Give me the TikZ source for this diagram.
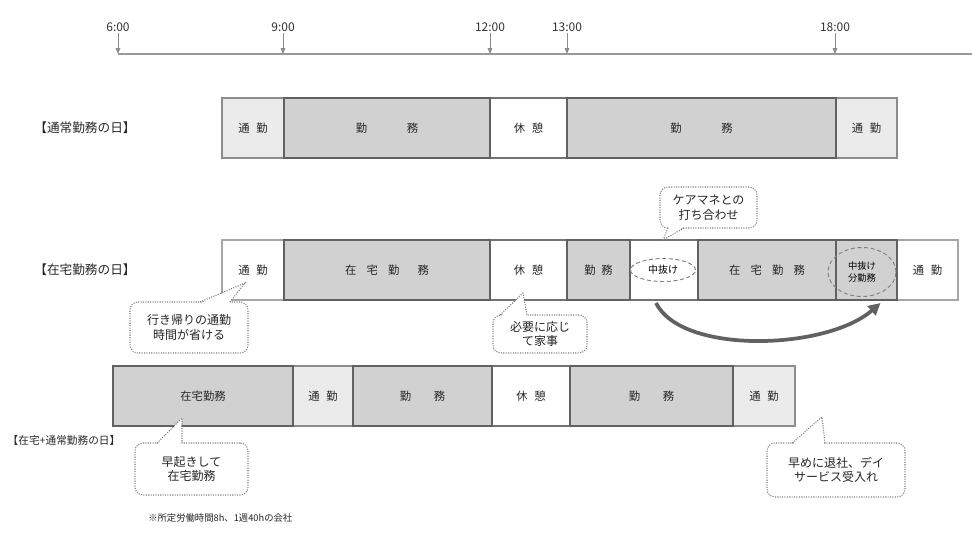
\documentclass[tikz,border=0pt]{standalone}
\usepackage{fontspec}
\setmainfont{Noto Sans CJK JP}
\usetikzlibrary{arrows.meta,shapes.geometric,calc}
\newcommand{\seg}[7]{\node[#6, minimum width={(#3-#2)*0.75pt}, minimum height={(#5-#4)*0.75pt}] (#1) at (#2,#4) {#7};}
\begin{document}
\begin{tikzpicture}[x=0.75pt,y=-0.75pt,
  segbase/.style={anchor=north west, inner sep=0pt, outer sep=0pt, font=\fontsize{8.5}{9.5}\selectfont, text=black!85, align=center},
  work/.style={segbase, fill=black!18, draw=black!62, line width=1.4pt},
  comm/.style={segbase, fill=black!8, draw=black!45, line width=0.9pt},
  rest/.style={segbase, fill=white, draw=black!55, line width=1pt},
  wcomm/.style={segbase, fill=white, draw=black!35, line width=0.8pt},
  rowlabel/.style={font=\fontsize{9.5}{11}\selectfont, text=black!85, inner sep=0pt},
  tlabel/.style={font=\fontsize{9}{10}\selectfont, text=black!80, inner sep=1pt},
  tarrow/.style={draw=black!45, line width=0.7pt, -{Triangle[length=4.5pt,width=3.5pt]}},
  callout/.style={draw=black!50, densely dotted, line width=0.8pt, rounded corners=6pt, fill=white, align=center, inner sep=1pt, font=\fontsize{9}{11}\selectfont, text=black!85},
  cline/.style={draw=black!50, densely dotted, line width=0.8pt},
  oval/.style={ellipse, draw=black!50, densely dashed, line width=0.7pt, inner sep=0pt, align=center}
]
\useasboundingbox (0,0) rectangle (972,553);

% timeline
\coordinate (tl0) at (118,54);
\coordinate (tlE) at (972,54);
\draw[draw=black!40, line width=1.3pt] (tl0) -- (tlE);
\node[tlabel] (h6) at (118,27) {6:00};
\node[tlabel] (h9) at (283,27) {9:00};
\node[tlabel] (h12) at (490,27) {12:00};
\node[tlabel] (h13) at (567,27) {13:00};
\node[tlabel] (h18) at (835,27) {18:00};
\foreach \h in {h6,h9,h12,h13,h18} {\draw[tarrow] (\h.south) -- (\h |- tl0);}

% row labels
\node[rowlabel] (r1) at (85,128) {【通常勤務の日】};
\node[rowlabel] (r2) at (85,270) {【在宅勤務の日】};
\node[rowlabel, font=\fontsize{8}{9}\selectfont] (r3) at (64,440) {【在宅+通常勤務の日】};

% row 1
\seg{a1}{222}{284}{98}{158}{comm}{通\hspace{0.6em}勤}
\seg{a3}{490}{567}{98}{158}{rest}{休\hspace{0.6em}憩}
\seg{a5}{836}{897}{98}{158}{comm}{通\hspace{0.6em}勤}
\seg{a2}{284}{490}{98}{158}{work}{勤\hspace{3.5em}務}
\seg{a4}{567}{836}{98}{158}{work}{勤\hspace{3.5em}務}

% row 2
\seg{b1}{222}{284}{240}{300}{wcomm}{通\hspace{0.6em}勤}
\seg{b8}{897}{958}{240}{300}{wcomm}{通\hspace{0.6em}勤}
\seg{b3}{490}{567}{240}{300}{rest}{休\hspace{0.6em}憩}
\seg{b5}{630}{698}{240}{300}{rest}{}
\seg{b2}{284}{490}{240}{300}{work}{在\hspace{0.9em}宅\hspace{0.9em}勤\hspace{1.6em}務}
\seg{b4}{567}{630}{240}{300}{work}{勤\hspace{0.5em}務}
\seg{b6}{698}{836}{240}{300}{work}{在\hspace{0.9em}宅\hspace{0.9em}勤\hspace{0.9em}務}
\seg{b7}{836}{897}{240}{300}{work}{}
\node[oval, fill=white, minimum width=65*0.75pt, minimum height=23*0.75pt, font=\fontsize{7.5}{8}\selectfont] (e1) at (663,270) {中抜け};
\node[oval, minimum width=68*0.75pt, minimum height=49*0.75pt, font=\fontsize{7}{8.5}\selectfont] (e2) at (862,272) {中抜け\\分勤務};
\draw[draw=black!62, line width=2.8pt, -{Triangle[length=9pt,width=9pt]}]
  ($(b5.south)+(-8,3)$) .. controls ($(b5.south)+(18,55)$) and ($(b7.south)+(-40,50)$) .. ($(b7.south)+(14,3)$);

% row 3
\seg{c2}{293}{353}{366}{426}{comm}{通\hspace{0.6em}勤}
\seg{c4}{492}{570}{366}{426}{rest}{休\hspace{0.6em}憩}
\seg{c6}{733}{795}{366}{426}{comm}{通\hspace{0.6em}勤}
\seg{c1}{113}{293}{366}{426}{work}{在宅勤務}
\seg{c3}{353}{492}{366}{426}{work}{勤\hspace{2em}務}
\seg{c5}{570}{733}{366}{426}{work}{勤\hspace{2em}務}

% callouts
\node[callout, minimum width=118*0.75pt, minimum height=51*0.75pt] (k1) at (189,327.5) {行き帰りの通勤\\時間が省ける};
\coordinate (t1) at (245,283);
\fill[white] (201,303.5) -- (t1) -- (229,303.5) -- cycle;
\draw[cline] (200,302) -- (t1) -- (230,302);

\node[callout, minimum width=94*0.75pt, minimum height=38*0.75pt] (k2) at (540,334) {必要に応じ\\て家事};
\coordinate (t2) at (523,293);
\fill[white] (501,316.5) -- (t2) -- (526,316.5) -- cycle;
\draw[cline] (500,315) -- (t2) -- (527,315);

\node[callout, minimum width=97*0.75pt, minimum height=41*0.75pt] (k3) at (708.5,207.5) {ケアマネとの\\打ち合わせ};
\coordinate (t3) at (663,240);
\fill[white] (669,226.5) -- (t3) -- (683,226.5) -- cycle;
\draw[cline] (668,228) -- (t3) -- (684,228);

\node[callout, minimum width=113*0.75pt, minimum height=52*0.75pt] (k4) at (191.5,469) {早起きして\\在宅勤務};
\coordinate (t4) at (182,418);
\fill[white] (158,444.5) -- (t4) -- (181,444.5) -- cycle;
\draw[cline] (157,443) -- (t4) -- (182,443);

\node[callout, minimum width=138*0.75pt, minimum height=54*0.75pt] (k5) at (836,470) {早めに退社、デイ\\サービス受入れ};
\coordinate (t5) at (822,417);
\fill[white] (793,444.5) -- (t5) -- (824,444.5) -- cycle;
\draw[cline] (792,443) -- (t5) -- (825,443);

% footnote
\node[anchor=west, inner sep=0pt, font=\fontsize{7}{8}\selectfont, text=black!85] (fn) at (148,518) {※所定労働時間8h、1週40hの会社};
\end{tikzpicture}
\end{document}
